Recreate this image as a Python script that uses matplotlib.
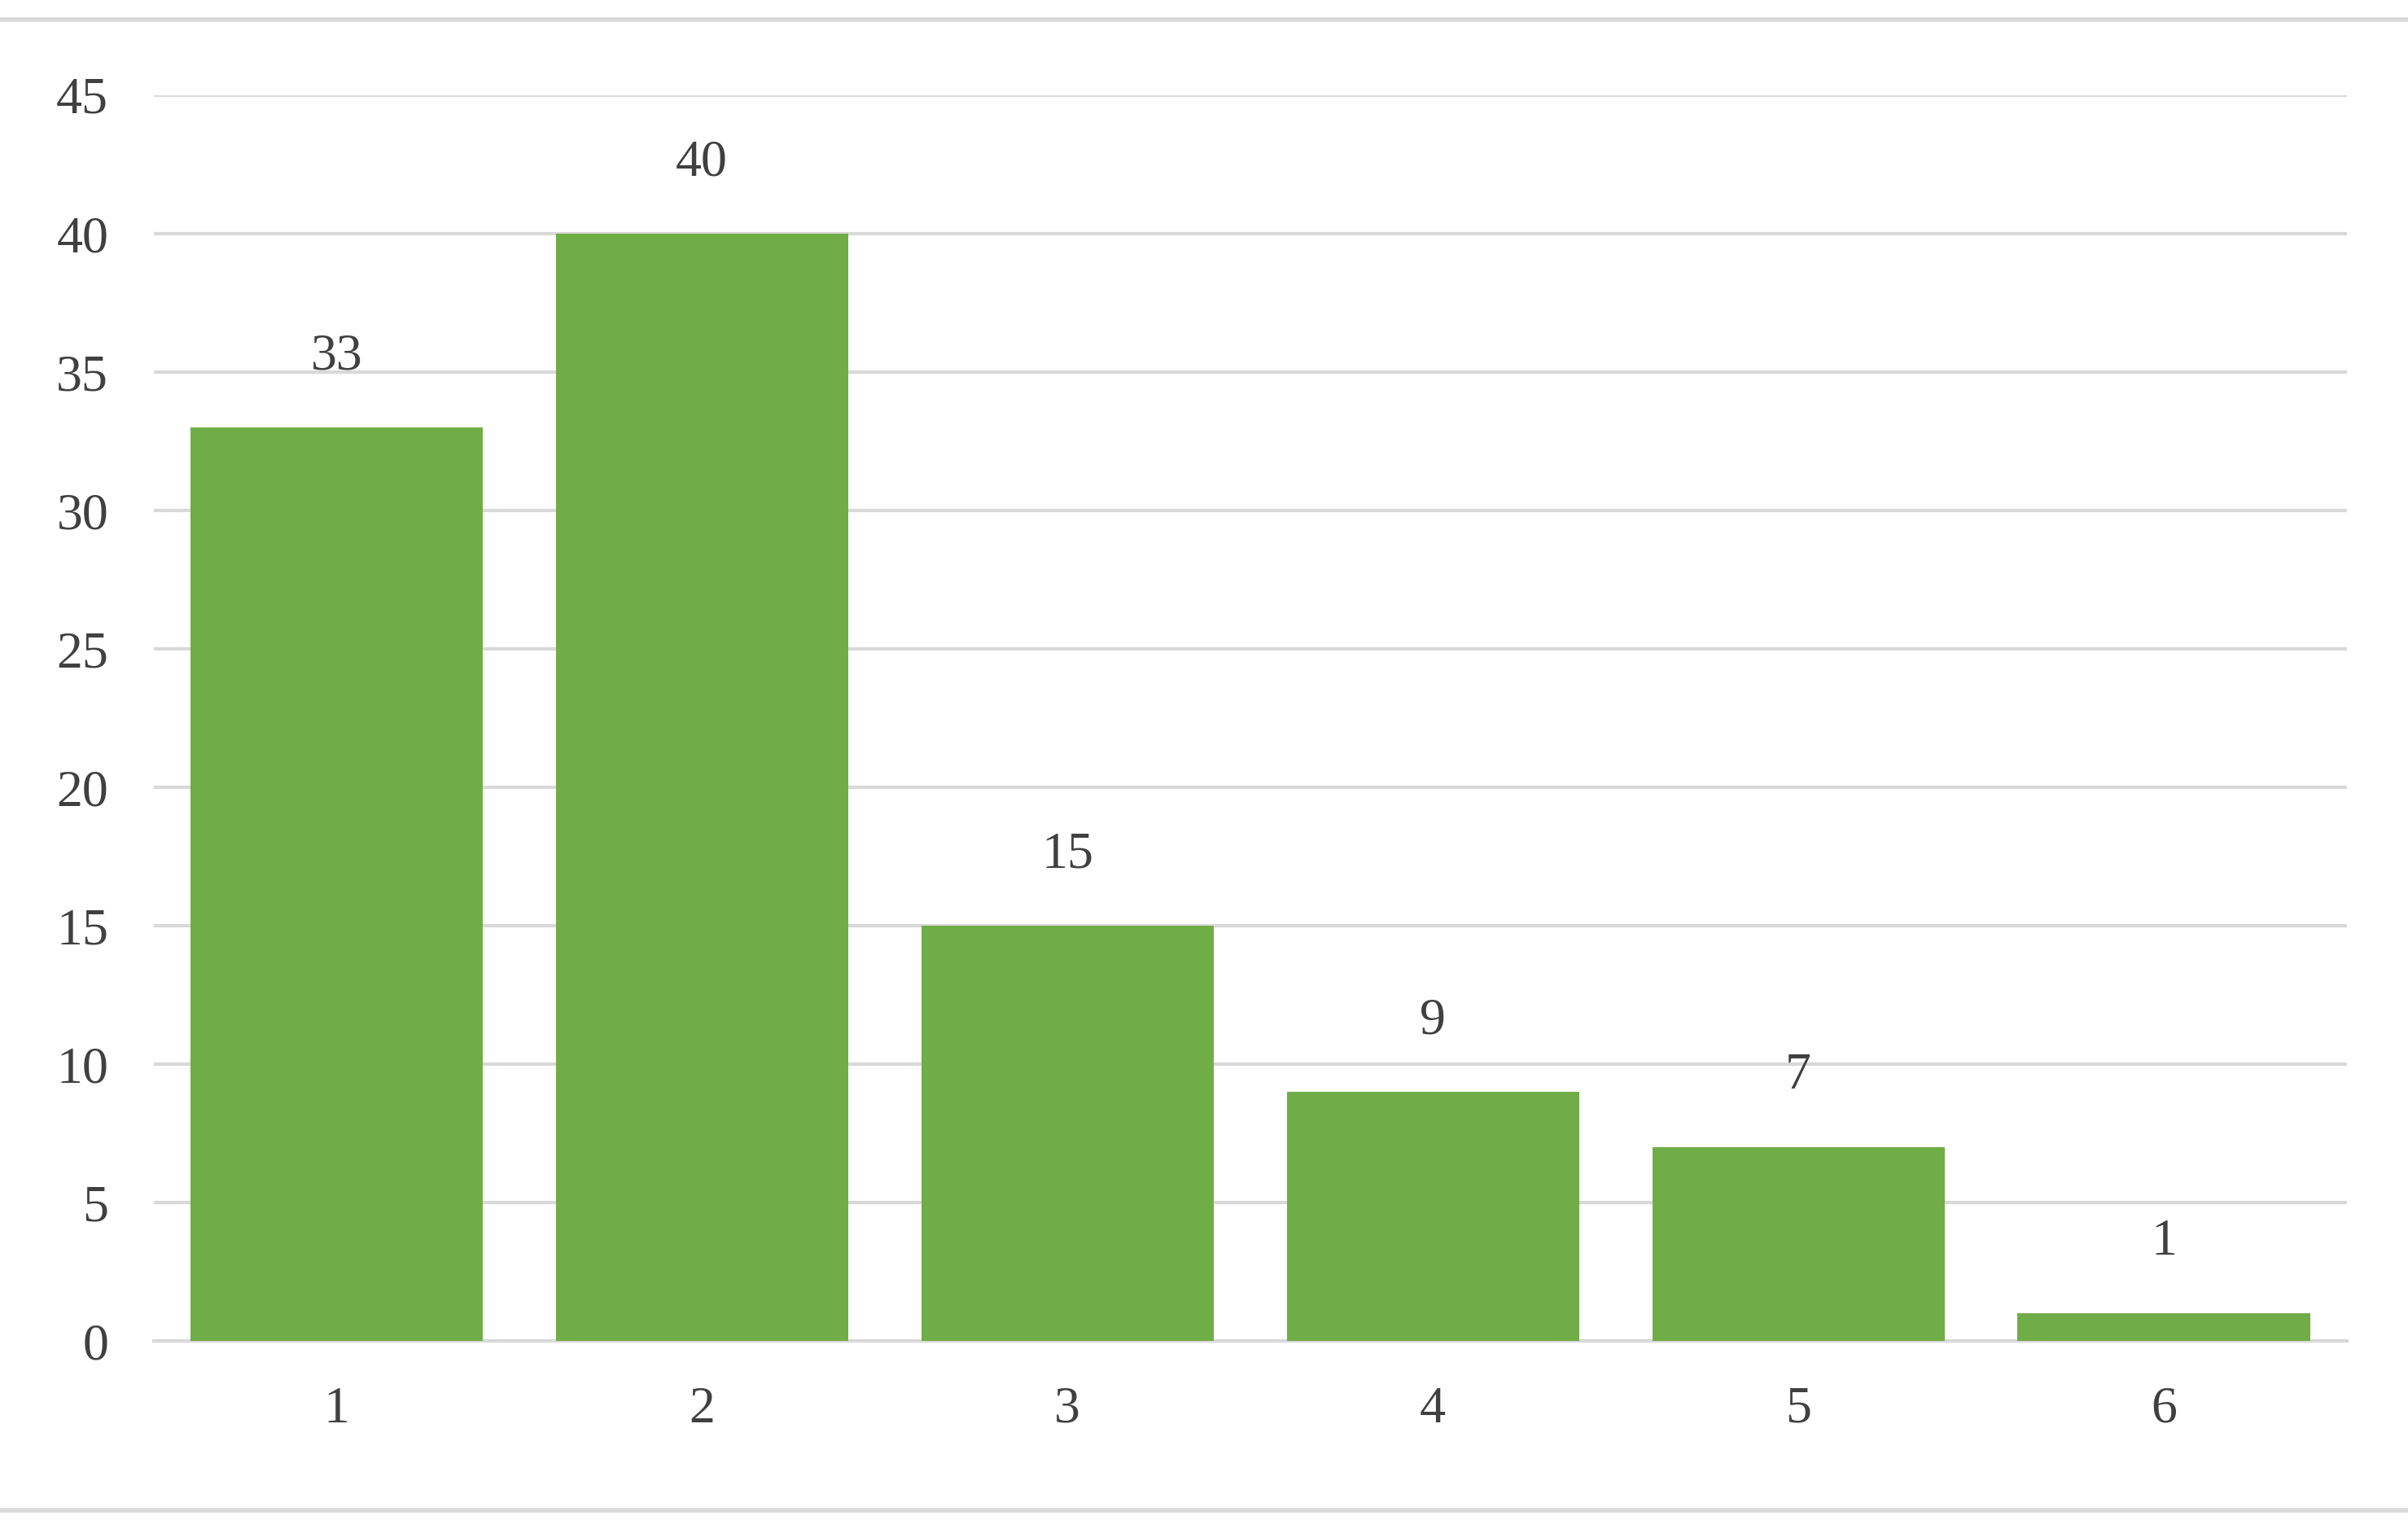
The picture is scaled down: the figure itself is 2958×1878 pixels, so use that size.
import matplotlib
matplotlib.use("Agg")
import matplotlib.pyplot as plt
from matplotlib.lines import Line2D

categories = ["1", "2", "3", "4", "5", "6"]
values = [33, 40, 15, 9, 7, 1]
yticks = [0, 5, 10, 15, 20, 25, 30, 35, 40, 45]

plt.rcParams['font.family'] = ['Liberation Serif', 'DejaVu Serif']
fig = plt.figure(figsize=(29.58, 18.78), dpi=100)
ax = fig.add_axes([0.0638, 0.123, 0.9107, 0.8147])
x = list(range(1, len(categories) + 1))
ax.bar(x, values, width=0.8, color="#70AD47", zorder=3)
for xi, v in zip(x, values):
    ax.text(xi, v + 1.7, str(v), ha="center", va="bottom", fontsize=46, color="#404040")
ax.set_xlim(0.5, 6.5)
ax.set_ylim(0, 45)
ax.set_yticks(yticks)
ax.set_xticks(x)
ax.set_xticklabels(categories)
ax.grid(axis="y", color="#D9D9D9", linewidth=3, zorder=0)
for s in ["top", "right", "left"]:
    ax.spines[s].set_visible(False)
ax.spines["bottom"].set_color("#D9D9D9")
ax.spines["bottom"].set_linewidth(3)
ax.tick_params(length=0, labelsize=46, labelcolor="#404040")
ax.tick_params(axis="x", pad=40)
ax.tick_params(axis="y", pad=40)
for yy in [0.987, 0.012]:
    fig.add_artist(Line2D([0.0, 1.0], [yy, yy], transform=fig.transFigure, color="#D9D9D9", linewidth=4))
fig.savefig("out.png", dpi=100, facecolor="white")
